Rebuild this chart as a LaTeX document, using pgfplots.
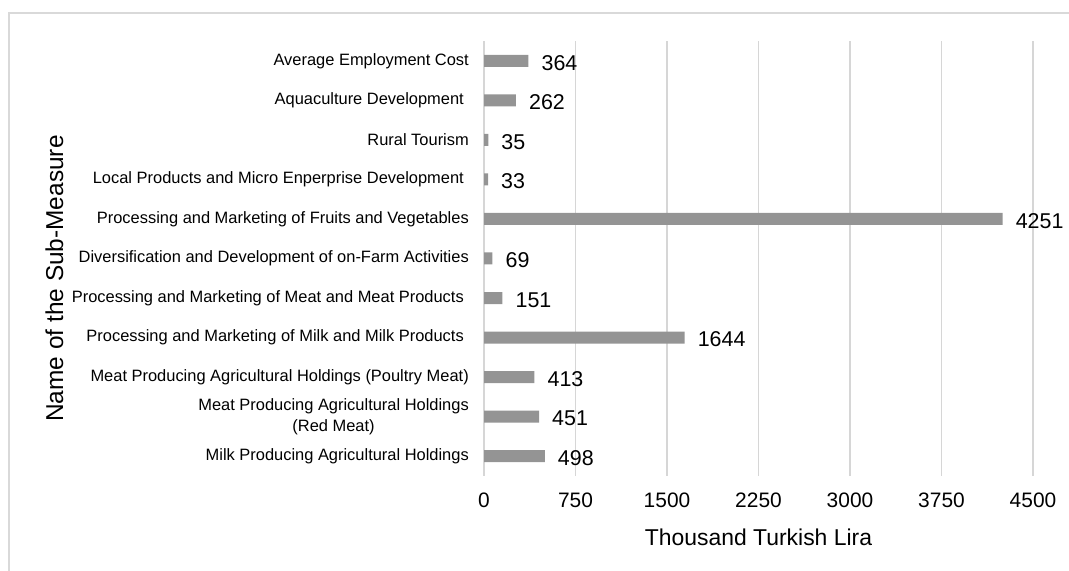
\documentclass[border=0pt]{standalone}
\usepackage{pgfplots}
\usepackage{pgfplotstable}
\pgfplotsset{compat=1.18}
\usepackage{fontspec}
\setmainfont{Liberation Sans}
\definecolor{bargray}{RGB}{148,148,148}
\definecolor{gridgray}{RGB}{214,214,214}
\definecolor{framegray}{RGB}{217,217,217}
\pgfplotstableread{
idx value
0 498
1 451
2 413
3 1644
4 151
5 69
6 4251
7 33
8 35
9 262
10 364
}\datatable
\begin{document}
\begin{tikzpicture}[x=1bp,y=1bp]
\path[use as bounding box] (0,0) rectangle (1069,571);
\draw[framegray, line width=2.5bp] (9,0) -- (9,558) -- (1069,558);
\begin{axis}[
  at={(484bp,95bp)}, anchor=south west,
  width=549bp, height=435bp, scale only axis,
  xmin=0, xmax=4500, ymin=-0.5, ymax=10.5,
  xbar, bar width=12bp,
  xtick={0,750,1500,2250,3000,3750,4500},
  ytick={0,1,2,3,4,5,6,7,8,9,10},
  yticklabels={
    Milk Producing Agricultural Holdings,
    Meat Producing Agricultural Holdings\\(Red Meat),
    Meat Producing Agricultural Holdings (Poultry Meat),
    Processing and Marketing of Milk and Milk Products\kern5bp,
    Processing and Marketing of Meat and Meat Products\kern5bp,
    Diversification and Development of on-Farm Activities,
    Processing and Marketing of Fruits and Vegetables,
    Local Products and Micro Enperprise Development\kern5bp,
    Rural Tourism,
    Aquaculture Development\kern5bp,
    Average Employment Cost},
  axis line style={draw=none},
  tick style={draw=none},
  major tick length=0pt,
  xmajorgrids,
  grid style={gridgray, line width=1.8bp},
  /pgf/number format/1000 sep={},
  /pgf/number format/assume math mode=true,
  xticklabel style={font=\fontsize{21}{25}\selectfont, inner sep=0pt, yshift=-17bp, text=black},
  yticklabel style={font=\fontsize{16.5}{20.7}\selectfont, inner sep=0pt, xshift=-15bp, align=center, text=black},
  xlabel={Thousand Turkish Lira},
  xlabel style={at={(axis description cs:0.5,0)}, anchor=center, yshift=-61bp, font=\fontsize{23}{27}\selectfont, text=black},
  clip=false,
]
\addplot[fill=bargray, draw=none,
  nodes near coords,
  nodes near coords style={anchor=west, inner sep=0pt, xshift=13bp, yshift=-2bp, font=\fontsize{21.5}{25}\selectfont, text=black},
] table[x=value, y=idx] {\datatable};
\end{axis}
\node[rotate=90, anchor=center, font=\fontsize{24.5}{29}\selectfont, text=black] at (54.5,292.5) {Name of the Sub-Measure};
\end{tikzpicture}
\end{document}
